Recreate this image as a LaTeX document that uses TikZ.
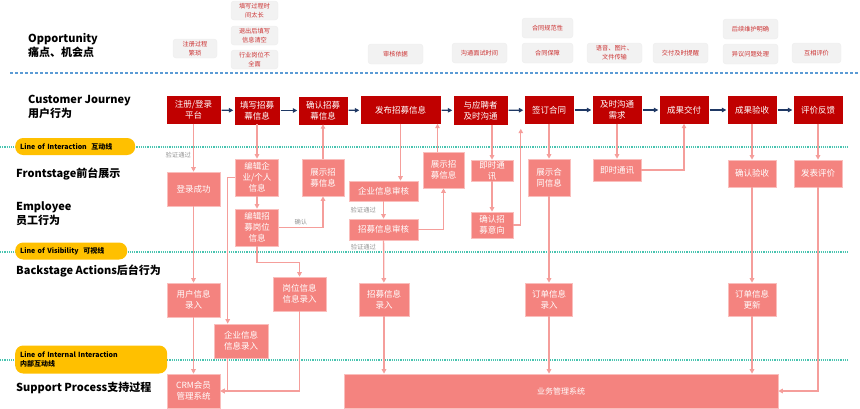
\documentclass[tikz,border=0pt]{standalone}
\usepackage{fontspec}
\setmainfont{Noto Sans CJK SC}
\usepackage{tikz}
\usetikzlibrary{arrows.meta,positioning,calc}
\definecolor{cjrot}{RGB}{192,0,0}
\definecolor{rosa}{RGB}{244,131,127}
\definecolor{rosarand}{RGB}{250,190,188}
\definecolor{rosalinie}{RGB}{245,158,155}
\definecolor{dunkelblau}{RGB}{31,56,100}
\definecolor{grauflaeche}{RGB}{242,242,242}
\definecolor{opptext}{RGB}{204,51,51}
\definecolor{gelb}{RGB}{255,192,0}
\definecolor{tuerkis}{RGB}{72,196,176}
\definecolor{hellblau}{RGB}{91,155,213}
\definecolor{labelgrau}{RGB}{150,150,150}
\tikzset{
  sz/.style 2 args={minimum width=#1pt, minimum height=#2pt},
  cjbox/.style={fill=cjrot, draw=cjrot, text=white, inner sep=1pt, align=center, font=\fontsize{8.5}{11}\selectfont},
  fsbox/.style={fill=rosa, draw=rosarand, line width=0.6pt, text=white, inner sep=1pt, align=center, font=\fontsize{8.5}{11}\selectfont},
  oppbox/.style={fill=grauflaeche, draw=black!7, rounded corners=3pt, text=opptext, inner sep=1pt, align=center, font=\fontsize{6.2}{9}\selectfont},
  pillbox/.style={fill=gelb, rounded corners=8pt, inner xsep=5pt, inner ysep=1pt, align=left, anchor=west, font=\fontsize{7}{8.5}\bfseries},
  rowlbl/.style={anchor=west, align=left, inner sep=0pt, font=\fontsize{11}{13.5}\bfseries},
  conn/.style={draw=rosalinie, line width=1.3pt, -{Triangle[length=4.5pt,width=4.5pt]}},
  flow/.style={draw=dunkelblau, line width=1.3pt, shorten <=1.5pt, shorten >=1.5pt, -{Triangle[length=4.5pt,width=4.5pt]}},
  lbl/.style={text=labelgrau, font=\fontsize{6.3}{7}\selectfont, inner sep=2pt},
}
\begin{document}
\begin{tikzpicture}[x=1pt,y=-1pt]
%Ein Pixel des Vorbilds ist ein pt, die y-Achse zeigt nach unten
  \pgfmathsetmacro{\yInter}{147}
  \pgfmathsetmacro{\ySicht}{252}
  \pgfmathsetmacro{\yIntern}{360}
  \pgfmathsetmacro{\xEnde}{848}
\useasboundingbox (0,0) rectangle (860,408);
%Trennlinien
\draw[hellblau, line width=1.2pt, dash pattern=on 3pt off 2pt] (10,73) -- (860,73);
\foreach \y in {\yInter,\ySicht,\yIntern}{
\draw[tuerkis, line width=1.2pt, dash pattern=on 1.2pt off 1pt] (0,\y) -- (\xEnde,\y);
}
%Zeilenbeschriftung links
\node[rowlbl] (lOpp) at (28,45.5) {Opportunity\\痛点、机会点};
\node[rowlbl] (lCJ) at (28,107) {Customer Journey\\用户行为};
\node[pillbox, text width=110pt, minimum height=17pt] (pInter) at (15,146.5) {Line of Interaction\ \ 互动线};
\node[rowlbl] (lFront) at (16,174) {Frontstage前台展示};
\node[rowlbl] (lEmp) at (16,213.5) {Employee\\员工行为};
\node[pillbox, text width=102pt, minimum height=17pt] (pSicht) at (15,251) {Line of Visibility\ \ 可视线};
\node[rowlbl] (lBack) at (16,271) {Backstage Actions后台行为};
\node[pillbox, text width=142pt, minimum height=28pt] (pIntern) at (15,359.5) {Line of Internal Interaction\\内部互动线};
\node[rowlbl] (lSupp) at (16,388) {Support Process支持过程};
%Schmerzpunkte
\node[oppbox, sz={44}{19}] (op1) at (195,48.5) {注册过程\\繁琐};
\node[oppbox, sz={47}{19}] (op2) at (254.5,10.5) {填写过程时\\间太长};
\node[oppbox, sz={47}{19}] (op3) at (254.5,35.5) {退出后填写\\信息清空};
\node[oppbox, sz={47}{19}] (op4) at (254.5,59.5) {行业岗位不\\全面};
\node[oppbox, sz={55}{20}] (op5) at (395.5,54) {审核依据};
\node[oppbox, sz={55}{20}] (op6) at (479.5,53) {沟通面试时间};
\node[oppbox, sz={51}{20}] (op7) at (547.5,28) {合同规范性};
\node[oppbox, sz={51}{20}] (op8) at (547.5,53) {合同保障};
\node[oppbox, sz={55}{20}] (op9) at (614.5,53) {语音、图片、\\文件传输};
\node[oppbox, sz={55}{20}] (op10) at (680.5,53) {交付及时提醒};
\node[oppbox, sz={55}{20}] (op11) at (750.5,29) {后续维护明确};
\node[oppbox, sz={55}{20}] (op12) at (750.5,54) {异议问题处理};
\node[oppbox, sz={49}{20}] (op13) at (816.5,53) {互相评价};
%Kundenreise
\node[cjbox, sz={53}{27}] (cj1) at (193.5,110) {注册/登录\\平台};
\node[cjbox, sz={44}{27}] (cj2) at (257,110.5) {填写招募\\幕信息};
\node[cjbox, sz={48}{27}] (cj3) at (323,110.5) {确认招募\\幕信息};
\node[cjbox, sz={79}{27}] (cj4) at (400.5,110) {发布招募信息};
\node[cjbox, sz={53}{28}] (cj5) at (480.5,110.5) {与应聘者\\及时沟通};
\node[cjbox, sz={48}{27}] (cj6) at (549,110) {签订合同};
\node[cjbox, sz={48}{27}] (cj7) at (617,110) {及时沟通\\需求};
\node[cjbox, sz={48}{27}] (cj8) at (684,110) {成果交付};
\node[cjbox, sz={48}{27}] (cj9) at (752,110) {成果验收};
\node[cjbox, sz={48}{27}] (cj10) at (818,110) {评价反馈};
\foreach \a/\b in {cj1/cj2,cj2/cj3,cj3/cj4,cj4/cj5,cj5/cj6,cj6/cj7,cj7/cj8,cj8/cj9,cj9/cj10}{
\draw[flow] (\a) -- (\b);
}
%Vorderbuehne und Mitarbeiter
\node[fsbox, sz={53}{34}] (fs1) at (193.5,189) {登录成功};
\node[fsbox, sz={43}{37}] (fs2) at (257,177.5) {编辑企\\业/个人\\信息};
\node[fsbox, sz={43}{37}] (fs3) at (257,227.5) {编辑招\\募岗位\\信息};
\node[fsbox, sz={42}{37}] (fs4) at (323,177.5) {展示招\\募信息};
\node[fsbox, sz={69}{20}] (fs5) at (383.5,191) {企业信息审核};
\node[fsbox, sz={69}{21}] (fs6) at (383.5,229.5) {招募信息审核};
\node[fsbox, sz={41}{36}] (fs7) at (443.5,170) {展示招\\募信息};
\node[fsbox, sz={42}{21}] (fs8) at (492,170.5) {即时通\\讯};
\node[fsbox, sz={42}{26}] (fs9) at (492,225) {确认招\\募意向};
\node[fsbox, sz={42}{37}] (fs10) at (549,177.5) {展示合\\同信息};
\node[fsbox, sz={48}{22}] (fs11) at (617,170) {即时通讯};
\node[fsbox, sz={48}{27}] (fs12) at (752,173.5) {确认验收};
\node[fsbox, sz={48}{27}] (fs13) at (818,173.5) {发表评价};
%Hinterbuehne
\node[fsbox, sz={53}{34}] (bs1) at (193.5,300) {用户信息\\录入};
\node[fsbox, sz={54}{34}] (bs2) at (241,341) {企业信息\\信息录入};
\node[fsbox, sz={53}{34}] (bs3) at (299.5,294) {岗位信息\\信息录入};
\node[fsbox, sz={50}{33}] (bs4) at (384,299.5) {招募信息\\录入};
\node[fsbox, sz={47}{33}] (bs5) at (549,299.5) {订单信息\\录入};
\node[fsbox, sz={48}{33}] (bs6) at (752,299.5) {订单信息\\更新};
%Unterstuetzung
\node[fsbox, sz={53}{34}] (sp1) at (193.5,391) {CRM会员\\管理系统};
\node[fsbox, sz={434}{34}, font=\fontsize{8}{10}\selectfont] (sp2) at (561,391) {业务管理系统};
%Verbindungen
\draw[conn] (cj1) -- node[lbl, left, pos=0.65] (lPruef1) {验证通过} (fs1);
\draw[conn] (fs1) -- (bs1);
\draw[conn] (bs1) -- (sp1);
\draw[conn] (cj2) -- (fs2);
\draw[conn] (fs2) -- (fs3);
\draw[conn] (fs2.west) -| ([xshift=14pt]bs2.north west);
\draw[conn] ([xshift=14pt]bs2.south west) |- (sp1.east);
\draw[conn] (bs3.south) |- (sp1.east);
\draw[conn] (fs3.east) -| node[lbl, above, pos=0.25] (lOk) {确认} (fs4.south);
\draw[conn] (fs3.south) -- ([yshift=-16pt]fs3.south) -| (bs3.north);
\draw[conn] (fs4) -- (cj3);
\draw[conn] (cj4.south) -- (cj4.south |- fs5.north);
\draw[conn] (fs5) -- node[lbl, left=5pt] (lPruef2) {验证通过} (fs6);
\draw[conn] (fs6.east) -| (fs7.south);
\draw[conn] ([xshift=-6pt]fs7.north) -- ([xshift=-6pt]fs7.north |- cj4.south);
\draw[conn] (fs6) -- node[lbl, left=5pt, pos=0.17] (lPruef3) {验证通过} (bs4);
\draw[conn] (bs4.south) -- (bs4.south |- sp2.north);
\draw[conn] (fs8.north |- cj5.south) -- (fs8);
\draw[conn] (fs8) -- (fs9);
\draw[conn] (fs9.east) -| ([xshift=-4pt,yshift=-5pt]cj6.south west);
\draw[conn] (cj6) -- (fs10);
\draw[conn] (fs10) -- (bs5);
\draw[conn] (bs5.south) -- (bs5.south |- sp2.north);
\draw[conn] (cj7) -- (fs11);
\draw[conn] (fs11.east) -| (cj8.south);
\draw[conn] (cj9) -- (fs12);
\draw[conn] (fs12) -- (bs6);
\draw[conn] (bs6.south) -- (bs6.south |- sp2.north);
\draw[conn] (cj10) -- (fs13);
\draw[conn] (fs13.south) |- (sp2.east);
\end{tikzpicture}
\end{document}
